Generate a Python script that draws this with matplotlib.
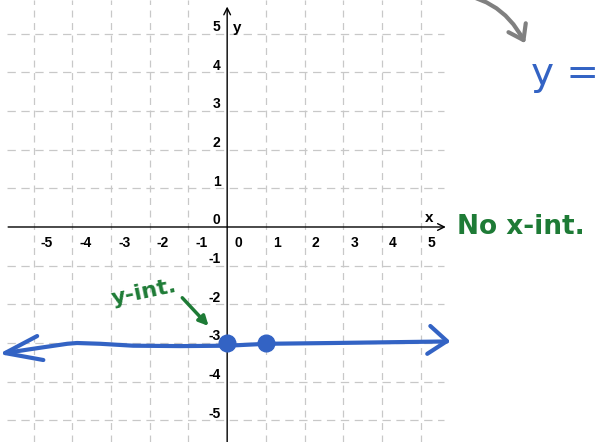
import numpy as np
import matplotlib.pyplot as plt

plt.rcParams['lines.scale_dashes'] = False

# grid / tick values
ticks = [-5, -4, -3, -2, -1, 1, 2, 3, 4, 5]
tick_labels = ['-5', '-4', '-3', '-2', '-1', '1', '2', '3', '4', '5']

# hand-drawn line y = -3 (slight wobble)
line_x = [-5.74, -5.02, -4.13, -3.88, -3.28, -2.43, -1.2, 0.0, 1.03, 2.74, 5.68]
line_y = [-3.26, -3.15, -3.02, -3.00, -3.02, -3.07, -3.08, -3.07, -3.02, -3.00, -2.96]

# plotted points
pts_x = [0, 1]
pts_y = [-3, -3]

# arrow heads of the sketched line: (barb, tip, barb)
left_head_x = [-4.91, -5.74, -4.75]
left_head_y = [-2.82, -3.26, -3.44]
right_head_x = [5.25, 5.68, 5.17]
right_head_y = [-2.56, -2.95, -3.28]

blue = '#3363c4'
green = '#1e7b36'
grey = '#808080'

fig = plt.figure(figsize=(6.01, 4.42), dpi=100)
ax = fig.add_axes([0, 0, 1, 1])
ax.set_xlim(-5.87, 9.66)
ax.set_ylim(-5.56, 5.87)
ax.axis('off')

# dashed grid
for t in ticks:
    ax.plot([t, t], [-5.56, 5.87], color='#c8c8c8', lw=0.9, ls=(0, (5, 4)), zorder=1)
    ax.plot([-5.68, 5.6], [t, t], color='#c8c8c8', lw=0.9, ls=(0, (6, 4)), zorder=1)

# axes with open arrows
ax.annotate('', xy=(5.65, 0), xytext=(-5.66, 0),
            arrowprops=dict(arrowstyle='->', color='black', lw=1.0,
                            shrinkA=0, shrinkB=0, mutation_scale=12), zorder=2)
ax.annotate('', xy=(0, 5.7), xytext=(0, -5.6),
            arrowprops=dict(arrowstyle='->', color='black', lw=1.0,
                            shrinkA=0, shrinkB=0, mutation_scale=12), zorder=2)

# tick labels
lab_font = dict(fontsize=10, fontweight='bold', family='Liberation Sans')
for t, lab in zip(ticks, tick_labels):
    ax.text(t + 0.18, -0.42, lab, ha='left', va='center', zorder=3, **lab_font)
    ax.text(-0.17, t + 0.17, lab, ha='right', va='center', zorder=3, **lab_font)
ax.text(0.2, -0.42, '0', ha='left', va='center', **lab_font)
ax.text(-0.17, 0.17, '0', ha='right', va='center', **lab_font)
ax.text(0.15, 5.15, 'y', ha='left', va='center', fontsize=11,
        fontweight='bold', family='Liberation Sans')
ax.text(5.1, 0.22, 'x', ha='left', va='center', fontsize=11,
        fontweight='bold', family='Liberation Sans')

# sketched line, arrow heads and points
ax.plot(line_x, line_y, color=blue, lw=3, solid_capstyle='round', zorder=4)
ax.plot(left_head_x, left_head_y, color=blue, lw=3, solid_capstyle='round',
        solid_joinstyle='round', zorder=4)
ax.plot(right_head_x, right_head_y, color=blue, lw=3, solid_capstyle='round',
        solid_joinstyle='round', zorder=4)
ax.plot(pts_x, pts_y, 'o', color=blue, ms=12, zorder=5)

# annotations
ax.text(-2.15, -1.68, 'y-int.', color=green, fontsize=16, rotation=12,
        fontweight='bold', ha='center', va='center', family='DejaVu Sans')
ax.annotate('', xy=(-0.48, -2.56), xytext=(-1.16, -1.83),
            arrowprops=dict(arrowstyle='-|>', color=green, lw=2.5,
                            shrinkA=0, shrinkB=0, mutation_scale=14))
ax.text(5.95, 0.0, 'No x-int.', color=green, fontsize=19, ha='left',
        fontweight='bold', va='center', family='DejaVu Sans')
ax.text(7.85, 3.95, 'y =', color=blue, fontsize=28, ha='left',
        va='center', family='DejaVu Sans')
ax.annotate('', xy=(7.7, 4.75), xytext=(5.6, 6.05),
            arrowprops=dict(arrowstyle='->,head_length=0.5,head_width=0.35',
                            color=grey, lw=3,
                            connectionstyle='arc3,rad=-0.3',
                            shrinkA=0, shrinkB=0, mutation_scale=20),
            annotation_clip=False)

fig.savefig('out.png', dpi=100)
